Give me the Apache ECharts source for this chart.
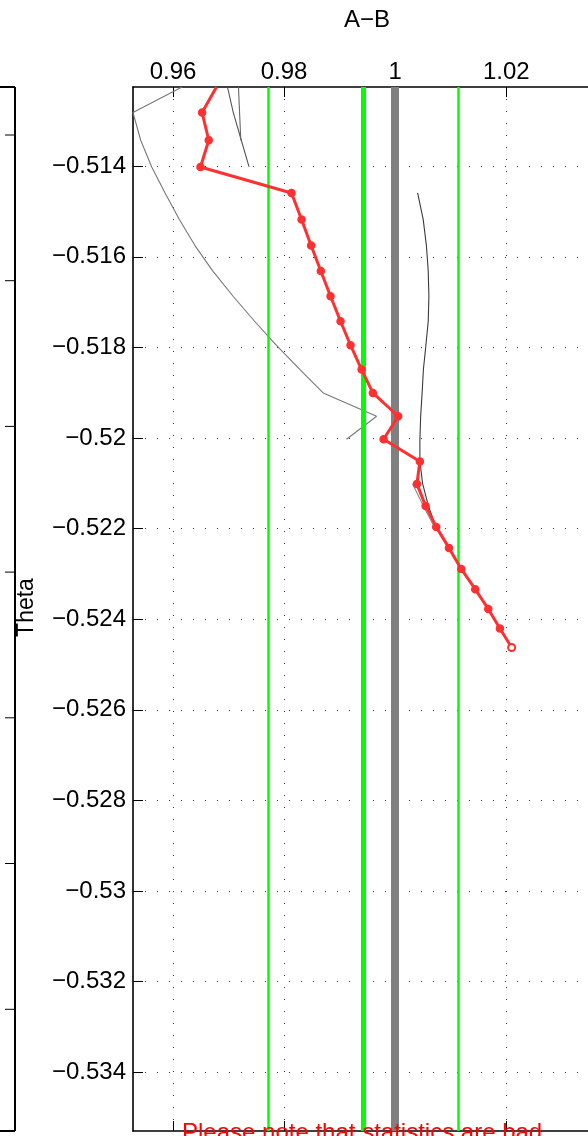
<!DOCTYPE html>
<html>
<head>
<meta charset="utf-8">
<script src="https://cdn.jsdelivr.net/npm/echarts@6/dist/echarts.min.js"></script>
<style>
html,body{margin:0;padding:0;background:#fff;}
#c{width:588px;height:1136px;}
</style>
</head>
<body>
<div id="c"></div>
<script>
// ---- data ----
const theta = [-0.51225, -0.512815, -0.513426, -0.514015, -0.514589, -0.515177, -0.515751, -0.516311,
  -0.516870, -0.517422, -0.517951, -0.518488, -0.519004, -0.519519, -0.520026, -0.520519, -0.521013,
  -0.521499, -0.521962, -0.522426, -0.522890, -0.523338, -0.523773, -0.524205, -0.524625];
const abRed = [0.96782, 0.96523, 0.96643, 0.96494, 0.98133, 0.98314, 0.98486, 0.98661, 0.98836,
  0.99016, 0.99196, 0.99395, 0.99598, 1.00054, 0.99791, 1.00445, 1.00391, 1.00548, 1.00739,
  1.00968, 1.01189, 1.01441, 1.01676, 1.01886, 1.02097];
const curveA = [0.96162, 0.95279, 0.95418, 0.95616, 0.95856, 0.96114, 0.96395, 0.96714, 0.97081,
  0.97468, 0.97858, 0.98286, 0.98703, 0.99665, 0.99124];
const curveB1 = [0.96980, 0.97085, 0.97229, 0.97369];
const curveB2 = [0.97178, 0.97198, 0.97220];
const curveC = [null, null, null, null, 1.00404, 1.00505, 1.00562, 1.00595, 1.00607, 1.00595,
  1.00553, 1.00508, 1.00485, 1.00459, 1.00445, 1.00445, 1.00495, 1.00598, 1.00733];
const curveD = [null, null, null, null, null, null, null, null, null, null, null, null, null,
  null, null, null, 1.00314, 1.00508, 1.00706];
const refLow = 0.97706, refMean = 0.99423, refHigh = 1.01135, refOne = 1.0;
const xTicks = [0.96, 0.98, 1, 1.02];
const yTicks = [-0.514, -0.516, -0.518, -0.52, -0.522, -0.524, -0.526, -0.528, -0.53, -0.532, -0.534];
const xRange = [0.95279, 1.03472];
const yRange = [-0.5353, -0.51225];
const titleText = 'A\u2212B';
const yName = 'Theta';
const noteText = 'Please note that statistics are bad';
const neighborTicksY = [135, 280.7, 426.4, 572.1, 717.8, 863.5, 1009.3];

// ---- chart ----
const FONT = "'Liberation Sans', Arial, Helvetica, sans-serif";
const pairs = arr => arr.map((v, i) => v == null ? null : [v, theta[i]]).filter(p => p);
const fmtMinus = v => (v < 0 ? '\u2212' : '') + String(+Math.abs(v).toFixed(4));

const chart = echarts.init(document.getElementById('c'), null, {renderer: 'canvas'});

const redData = abRed.map((v, i) => {
  const d = {value: [v, theta[i]]};
  if (i === 0) d.symbol = 'none';
  if (i === abRed.length - 1) { d.symbol = 'emptyCircle'; d.symbolSize = 7; }
  return d;
});

const grayLine = (data, color, z) => ({
  type: 'line', data: pairs(data), symbol: 'none', z: z, silent: true,
  lineStyle: {color: color, width: 1.1}, clip: true
});

const vline = (v, color, w) => ({xAxis: v, lineStyle: {color: color, width: w, type: 'solid'}});

const neighbor = [
  {type: 'line', shape: {x1: 15, y1: 87, x2: 15, y2: 1131}, style: {stroke: '#000', lineWidth: 2}},
  {type: 'line', shape: {x1: 0, y1: 87, x2: 15, y2: 87}, style: {stroke: '#000', lineWidth: 2}},
  {type: 'line', shape: {x1: 0, y1: 1131, x2: 15, y2: 1131}, style: {stroke: '#000', lineWidth: 2}}
].concat(neighborTicksY.map(y => ({type: 'line', shape: {x1: 5, y1: y, x2: 15, y2: y}, style: {stroke: '#000', lineWidth: 1}})));

const option = {
  animation: false,
  backgroundColor: '#fff',
  grid: {left: 133, top: 87, right: 0, bottom: 5, containLabel: false},
  xAxis: [{
    type: 'value', position: 'top', min: xRange[0], max: xRange[1],
    minInterval: 0.02, maxInterval: 0.02,
    axisLine: {show: true, onZero: false, lineStyle: {color: '#000', width: 1.6}},
    axisTick: {show: true, inside: true, length: 10, customValues: xTicks, lineStyle: {color: '#000', width: 1}},
    axisLabel: {show: true, customValues: xTicks, margin: 3, color: '#000', fontSize: 24, fontFamily: FONT,
      formatter: v => String(+v.toFixed(4))},
    splitLine: {show: true, lineStyle: {color: '#333', width: 1, type: [1, 11]}}
  }, {
    type: 'value', position: 'bottom', min: xRange[0], max: xRange[1],
    minInterval: 0.02, maxInterval: 0.02,
    axisLine: {show: true, onZero: false, lineStyle: {color: '#000', width: 1.6}},
    axisTick: {show: true, inside: true, length: 10, customValues: xTicks, lineStyle: {color: '#000', width: 1}},
    axisLabel: {show: false},
    splitLine: {show: false}
  }],
  yAxis: {
    type: 'value', min: yRange[0], max: yRange[1],
    minInterval: 0.002, maxInterval: 0.002,
    axisLine: {show: true, onZero: false, lineStyle: {color: '#000', width: 1.6}},
    axisTick: {show: true, inside: true, length: 10, customValues: yTicks, lineStyle: {color: '#000', width: 1}},
    axisLabel: {show: true, customValues: yTicks, margin: 7, color: '#000', fontSize: 24, fontFamily: FONT,
      formatter: fmtMinus},
    splitLine: {show: true, lineStyle: {color: '#333', width: 1, type: [1, 11]}}
  },
  series: [
    {
      type: 'line', data: [], z: 1, silent: true,
      markLine: {
        silent: true, symbol: ['none', 'none'], label: {show: false}, animation: false, precision: 8,
        data: [
          vline(refLow, '#00ff00', 2.5),
          vline(refMean, '#00ff00', 5),
          vline(refOne, '#808080', 8),
          vline(refHigh, '#00ff00', 2.5)
        ]
      }
    },
    grayLine(curveA, '#777777', 2),
    grayLine(curveB1, '#555555', 2),
    grayLine(curveB2, '#666666', 2),
    grayLine(curveC, '#3a3a3a', 2),
    grayLine(curveD, '#888888', 2),
    {
      type: 'line', data: redData, z: 5, symbol: 'circle', symbolSize: 7, showAllSymbol: true,
      lineStyle: {color: '#ff3030', width: 3},
      itemStyle: {color: '#ff3030', borderColor: '#ff3030', borderWidth: 1.5},
      clip: true
    }
  ],
  graphic: neighbor.concat([
    {type: 'text', x: 367, y: 20, style: {text: titleText, font: '24px ' + FONT, fill: '#000', textAlign: 'center', textVerticalAlign: 'middle'}},
    {type: 'text', x: 26.5, y: 607.5, rotation: Math.PI / 2, style: {text: yName, font: '23px ' + FONT, fill: '#000', textAlign: 'center', textVerticalAlign: 'middle'}},
    {type: 'text', x: 182, y: 1133.5, z: 100, style: {text: noteText, font: '24px ' + FONT, fill: '#ff0000', textAlign: 'left', textVerticalAlign: 'middle'}}
  ])
};
chart.setOption(option);
</script>
</body>
</html>
